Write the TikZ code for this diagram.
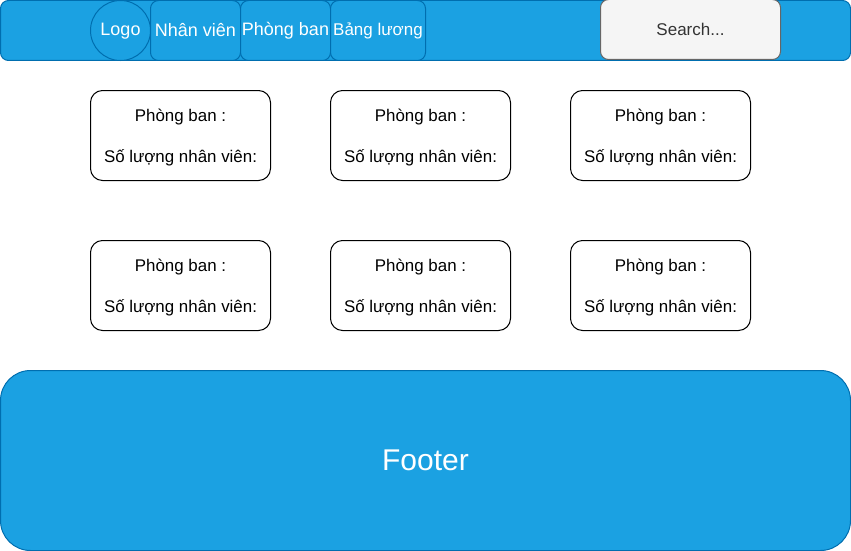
\documentclass[tikz,border=0pt]{standalone}
\usepackage{fontspec}
\setmainfont{Liberation Sans}
\definecolor{navblue}{HTML}{1BA1E2}
\definecolor{navline}{HTML}{006EAF}
\definecolor{searchfill}{HTML}{F5F5F5}
\definecolor{searchline}{HTML}{666666}
\definecolor{searchtext}{HTML}{333333}
\begin{document}
\begin{tikzpicture}[x=1pt,y=-1pt,line width=1pt,
  navbtn/.style={draw=navline,fill=navblue,rounded corners=8pt,text=white,inner sep=0pt,minimum height=60pt,font=\fontsize{18}{21}\selectfont},
  card/.style={draw=black,fill=white,rounded corners=12pt,minimum width=180pt,minimum height=90pt,align=center,inner sep=0pt,text depth=0pt,font=\fontsize{16.9}{41}\selectfont}]
\useasboundingbox (0,0) rectangle (851,551);

%%% HEADER %%%
\node [draw=navline,fill=navblue,rounded corners=8pt,minimum width=850pt,minimum height=60pt,inner sep=0pt] at (425.5,30.5) (header) {};
\node [draw=navline,fill=navblue,circle,minimum size=60pt,inner sep=0pt] at (120.5,30.5) (logo) {};
\node [text=white,font=\fontsize{18}{21}\selectfont,inner sep=0pt] at (120.5,31) (logotext) {Logo};
\node [navbtn,minimum width=90pt] at (195.5,30.5) (nhanvien) {Nhân viên};
\node [navbtn,minimum width=90pt] at (285.5,30.5) (phongban) {Phòng ban};
\node [navbtn,minimum width=95pt,font=\fontsize{17}{20}\selectfont] at (378,30.5) (bangluong) {Bảng lương};
\node [draw=searchline,fill=searchfill,rounded corners=8pt,minimum width=180pt,minimum height=60pt,inner sep=0pt,text=searchtext,font=\fontsize{17}{20}\selectfont] at (690.5,29.5) (search) {Search...};

%%% CARDS %%%
\node [card] at (180.5,135.5) (card11) {Phòng ban :\\Số lượng nhân viên:};
\node [card] at (420.5,135.5) (card12) {Phòng ban :\\Số lượng nhân viên:};
\node [card] at (660.5,135.5) (card13) {Phòng ban :\\Số lượng nhân viên:};
\node [card] at (180.5,285.5) (card21) {Phòng ban :\\Số lượng nhân viên:};
\node [card] at (420.5,285.5) (card22) {Phòng ban :\\Số lượng nhân viên:};
\node [card] at (660.5,285.5) (card23) {Phòng ban :\\Số lượng nhân viên:};

%%% FOOTER %%%
\node [draw=navline,fill=navblue,rounded corners=30pt,minimum width=850pt,minimum height=180pt,inner sep=0pt,text=white,font=\fontsize{30}{36}\selectfont] at (425.5,460.5) (footer) {Footer};
\end{tikzpicture}
\end{document}
